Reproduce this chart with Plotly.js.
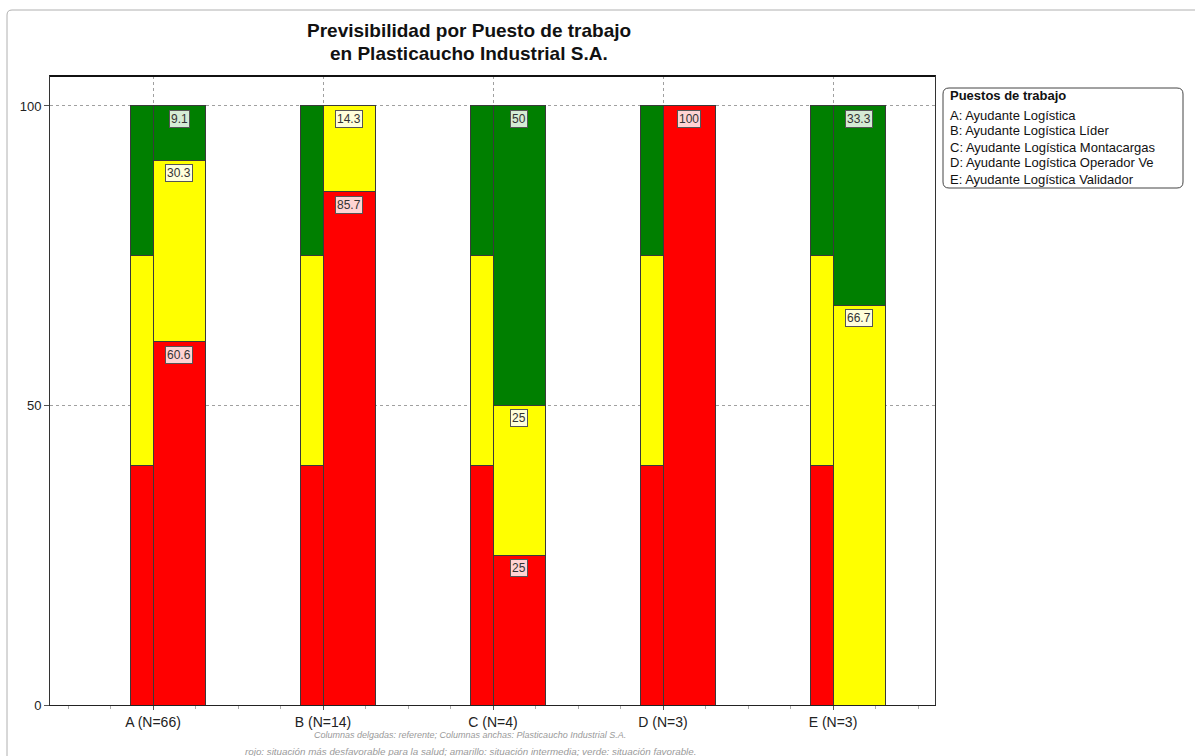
<!DOCTYPE html>
<html>
<head>
<meta charset="utf-8">
<script src="https://cdn.plot.ly/plotly-3.0.1.min.js"></script>
<style>html,body{margin:0;padding:0;background:#fff;}#chart{width:1195px;height:756px;}</style>
</head>
<body>
<div id="chart"></div>
<script>
// ---- data ----
const categories = ["A", "B", "C", "D", "E"];
const sampleSizes = [66, 14, 4, 3, 3];
const jobNames = [
  "Ayudante Logística",
  "Ayudante Logística Líder",
  "Ayudante Logística Montacargas",
  "Ayudante Logística Operador Ve",
  "Ayudante Logística Validador"
];
// reference (thin columns)
const refRed = [40, 40, 40, 40, 40];
const refYellow = [35, 35, 35, 35, 35];
const refGreen = [25, 25, 25, 25, 25];
// Plasticaucho Industrial S.A. (wide columns)
const compRed = [60.6, 85.7, 25, 100, 0];
const compYellow = [30.3, 14.3, 25, 0, 66.7];
const compGreen = [9.1, 0, 50, 0, 33.3];
const tickLabels = categories.map((c, i) => c + " (N=" + sampleSizes[i] + ")");

// ---- styling ----
const FONT = "Liberation Sans, Arial, sans-serif";
const RED = "#FF0000", YELLOW = "#FFFF00", GREEN = "#007F00";
const LBG = {red: "#FFD3D3", yellow: "#FFFFDA", green: "#D5EBD5"};
const thinW = 0.135, wideW = 0.306;
const thinOff = -thinW / 2, wideOff = wideW / 2;
const idx = categories.map((c, i) => i);
const xThin = idx.map(i => i + thinOff);
const xWide = idx.map(i => i + wideOff);
const lineStyle = {color: "#3a3a3a", width: 1};

function bar(x, y, color, w) {
  return {type: "bar", x: x, y: y, width: idx.map(() => w),
    marker: {color: color, line: lineStyle}, hoverinfo: "skip", showlegend: false};
}
const traces = [
  bar(xThin, refRed, RED, thinW),
  bar(xThin, refYellow, YELLOW, thinW),
  bar(xThin, refGreen, GREEN, thinW),
  bar(xWide, compRed, RED, wideW),
  bar(xWide, compYellow, YELLOW, wideW),
  bar(xWide, compGreen, GREEN, wideW)
];

// value labels
const annotations = [];
idx.forEach(i => {
  const segs = [[compRed[i], "red"], [compYellow[i], "yellow"], [compGreen[i], "green"]];
  let cum = 0;
  segs.forEach(([v, k]) => {
    cum += v;
    if (v > 0) {
      annotations.push({x: xWide[i], y: cum, xref: "x", yref: "y", yanchor: "top",
        yshift: -4, text: String(v), showarrow: false,
        font: {family: FONT, size: 12, color: "#333"},
        bgcolor: LBG[k], bordercolor: "#555", borderwidth: 1, borderpad: 1});
    }
  });
});

// plot geometry (px)
const pw = 885, ph = 629, pl = 50, pb = 705;
const px = v => (v - pl) / pw;
const py = v => (pb - v) / ph;

// title
annotations.push({xref: "paper", yref: "paper", x: px(469), y: py(30), yanchor: "middle",
  showarrow: false, text: "<b>Previsibilidad por Puesto de trabajo</b>",
  font: {family: FONT, size: 19, color: "#111"}});
annotations.push({xref: "paper", yref: "paper", x: px(469), y: py(53), yanchor: "middle",
  showarrow: false, text: "<b>en Plasticaucho Industrial S.A.</b>",
  font: {family: FONT, size: 19, color: "#111"}});

// legend box text (one line per annotation)
const legendLines = ["<b>Puestos de trabajo</b>"].concat(
  categories.map((c, i) => c + ": " + jobNames[i]));
const legendY = [96, 115, 131, 147, 163, 179];
legendLines.forEach((t, j) => {
  annotations.push({xref: "paper", yref: "paper", x: px(948), y: py(legendY[j]), xanchor: "left",
    yanchor: "middle", align: "left", showarrow: false, text: t,
    font: {family: FONT, size: 13, color: "#111"}});
});

// footnotes
annotations.push({xref: "paper", yref: "paper", x: px(470), y: py(735), yanchor: "middle",
  showarrow: false, text: "<i>Columnas delgadas: referente; Columnas anchas: Plasticaucho Industrial S.A.</i>",
  font: {family: FONT, size: 9, color: "#9a9a9a"}});
annotations.push({xref: "paper", yref: "paper", x: px(470), y: py(751), yanchor: "middle",
  showarrow: false, text: "<i>rojo: situación más desfavorable para la salud; amarillo: situación intermedia; verde: situación favorable.</i>",
  font: {family: FONT, size: 9.8, color: "#9a9a9a"}});

// shapes: outer frame and rounded legend border
const lx0 = px(943), lx1 = px(1183), ly0 = py(188), ly1 = py(88);
const rx = 6 / pw, ry = 6 / ph;
const legendPath = `M ${lx0 + rx},${ly1} L ${lx1 - rx},${ly1} Q ${lx1},${ly1} ${lx1},${ly1 - ry} L ${lx1},${ly0 + ry} Q ${lx1},${ly0} ${lx1 - rx},${ly0} L ${lx0 + rx},${ly0} Q ${lx0},${ly0} ${lx0},${ly0 + ry} L ${lx0},${ly1 - ry} Q ${lx0},${ly1} ${lx0 + rx},${ly1} Z`;
const fx0 = px(7), fy1 = py(10), frx = 5 / pw, fry = 5 / ph;
const framePath = `M ${fx0},-0.2 L ${fx0},${fy1 - fry} Q ${fx0},${fy1} ${fx0 + frx},${fy1} L 1.5,${fy1}`;
const shapes = [
  {type: "path", xref: "paper", yref: "paper", path: legendPath, line: {color: "#444", width: 1}},
  {type: "path", xref: "paper", yref: "paper", path: framePath, line: {color: "#b0b0b0", width: 1}},
  {type: "line", xref: "paper", yref: "paper", x0: 0, x1: 1, y0: 1, y1: 1, line: {color: "#111", width: 2}}
];

const layout = {
  width: 1195, height: 756,
  margin: {l: 50, r: 260, t: 76, b: 51},
  paper_bgcolor: "#fff", plot_bgcolor: "#fff",
  barmode: "stack",
  font: {family: FONT, color: "#222"},
  xaxis: {range: [-0.606, 4.6], tickvals: idx, ticktext: tickLabels,
    showgrid: true, gridcolor: "#a0a0a0", griddash: "dot", gridwidth: 1,
    showline: true, linecolor: "#222", linewidth: 1, mirror: true,
    ticks: "outside", ticklen: 4, tickcolor: "#555",
    minor: {dtick: 0.25, tick0: 0, ticks: "outside", ticklen: 3, tickcolor: "#aaa", showgrid: false},
    tickfont: {size: 14, color: "#222"}, zeroline: false, fixedrange: true},
  yaxis: {range: [0, 105], tickvals: [0, 50, 100], ticktext: ["0", "50", "100"],
    showgrid: true, gridcolor: "#a0a0a0", griddash: "dot", gridwidth: 1,
    showline: true, linecolor: "#333", linewidth: 1, mirror: true,
    ticks: "outside", ticklen: 5, tickcolor: "#555",
    tickfont: {size: 13, color: "#222"}, zeroline: false, fixedrange: true},
  annotations: annotations,
  shapes: shapes,
  bargap: 0
};

Plotly.newPlot("chart", traces, layout, {displayModeBar: false, staticPlot: true});
</script>
</body>
</html>
